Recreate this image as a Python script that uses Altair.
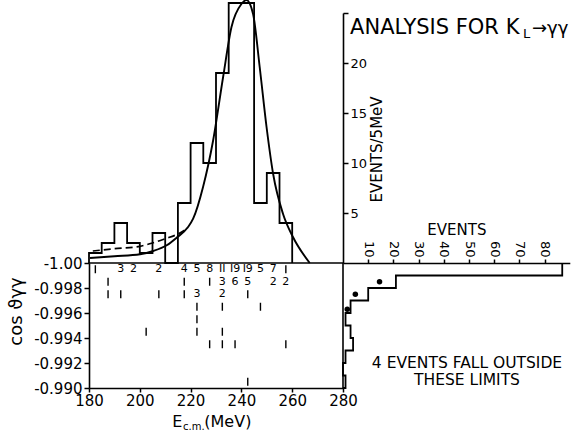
import altair as alt
import pandas as pd

# ---------------- data ----------------
# top histogram: events per 5 MeV bin
bin_lo = [180, 185, 190, 195, 200, 205, 210, 215, 220, 225, 230, 235, 240, 245, 250, 255]
hist_n = [1, 2, 4, 2, 1, 3, 0, 6, 12, 10, 19, 26, 26, 6, 9, 4]

# fitted curve (solid)
fit_e = [180.4, 190, 200.1, 205.3, 210.6, 214.5, 219.0, 221.0, 224.9, 228.9, 232.8,
         236.1, 240.0, 242.0, 244.6, 247.2, 249.9, 252.5, 256.4, 260.3, 266.9]
fit_n = [0.5, 0.67, 0.87, 1.2, 1.77, 2.53, 3.6, 4.43, 7.6, 12.3, 18.6,
         23.6, 25.9, 26.3, 24.9, 19.6, 13.6, 8.9, 4.9, 2.6, 0.0]

# background curve (dashed)
dash_e = [181.5, 190, 200, 205, 210, 215, 219]
dash_n = [1.2, 1.43, 1.67, 2.0, 2.43, 2.9, 3.5]

# scatter cells: bin centre energy, cos bin centre, number of events
cell_e = [182.5, 192.5, 197.5, 207.5, 217.5, 222.5, 227.5, 232.5, 237.5, 242.5, 247.5, 252.5, 257.5,
          187.5, 217.5, 227.5, 232.5, 237.5, 242.5, 252.5, 257.5,
          187.5, 192.5, 207.5, 217.5, 222.5, 232.5, 242.5,
          222.5, 232.5, 247.5,
          222.5,
          202.5, 222.5, 232.5,
          227.5, 232.5, 237.5, 257.5,
          242.5]
cell_cos = [-0.9995] * 13 + [-0.9985] * 8 + [-0.9975] * 7 + [-0.9965] * 3 + [-0.9955] * 1 + \
           [-0.9945] * 3 + [-0.9935] * 4 + [-0.9905] * 1
cell_n = [1, 3, 2, 2, 4, 5, 8, 11, 19, 19, 5, 7, 1,
          1, 1, 1, 3, 6, 5, 2, 2,
          1, 1, 1, 1, 3, 2, 1,
          1, 1, 1,
          1,
          1, 1, 1,
          1, 1, 1, 1,
          1]

# right-hand projection: events per cos bin
cos_lo = [-1.000, -0.999, -0.998, -0.997, -0.996, -0.995, -0.994, -0.993, -0.992, -0.991]
cos_n = [87, 21, 10, 3, 1, 3, 4, 1, 0, 1]

# expected values (dots)
dot_n = [14.5, 4.9, 1.7]
dot_cos = [-0.9985, -0.9975, -0.9963]

# ---------------- tables ----------------
hx, hy = [bin_lo[0]], [0]
for lo, n in zip(bin_lo, hist_n):
    hx += [lo, lo + 5]
    hy += [n, n]
hx.append(bin_lo[-1] + 5)
hy.append(0)
hist_df = pd.DataFrame({"e": hx, "n": hy, "o": range(len(hx))})

fit_df = pd.DataFrame({"e": fit_e, "n": fit_n})
dash_df = pd.DataFrame({"e": dash_e, "n": dash_n})
cell_df = pd.DataFrame({"e": cell_e, "c": cell_cos, "n": cell_n,
                        "lab": [str(v).replace("1", "I") for v in cell_n]})

sx, sy = [], []
for lo, n in zip(cos_lo, cos_n):
    sx += [n, n]
    sy += [lo, round(lo + 0.001, 3)]
sx.append(0)
sy.append(cos_lo[-1] + 0.001)
stair_df = pd.DataFrame({"k": sx, "c": sy, "o": range(len(sx))})
dot_df = pd.DataFrame({"k": dot_n, "c": dot_cos})

FONT = "DejaVu Sans"
W, H = 254, 375

X_MEV = alt.Scale(domain=[180, 280], range=[0, W], nice=False, zero=False)
Y_COS = alt.Scale(domain=[-1.0, -0.99], range=[250, H], nice=False, zero=False)
Y_EV = alt.Scale(domain=[0, 25], range=[250, 0], nice=False, zero=False)
X_EV = alt.Scale(domain=[0, 90], range=[W, W + 226.8], nice=False, zero=False)

mev_axis = alt.Axis(orient="bottom", values=[180, 200, 220, 240, 260, 280], tickSize=4,
                    labelFontSize=15, labelFlush=False, labelPadding=1, title=None)
ev_axis = alt.Axis(orient="right", values=[5, 10, 15, 20, 25], tickSize=5,
                   labelExpr="datum.value == 25 ? '' : datum.label",
                   labelFontSize=13, labelPadding=2, title="EVENTS/5MeV",
                   titleAngle=270, titleFontSize=15, titleX=33, titleY=136,
                   titleAlign="center", titleBaseline="middle")
cos_axis = alt.Axis(orient="left", values=[-1.0, -0.998, -0.996, -0.994, -0.992, -0.99],
                    tickSize=5, labelFontSize=15, labelPadding=2,
                    labelExpr="datum.value < -0.9995 ? '-1.00' : '-' + format(-datum.value, '.3f')",
                    title="cos ϑγγ", titleFontSize=18, titleAngle=270,
                    titleX=-73, titleY=298, titleAlign="center", titleBaseline="middle")
evr_axis = alt.Axis(orient="top", offset=-250, values=[10, 20, 30, 40, 50, 60, 70, 80],
                    tickSize=4, labelAngle=90, labelAlign="right", labelBaseline="middle",
                    labelFontSize=13, labelPadding=2, title="EVENTS", titleFontSize=15,
                    titlePadding=3)

hist = alt.Chart(hist_df).mark_line(color="black", strokeWidth=1.8).encode(
    x=alt.X("e:Q", scale=X_MEV, axis=mev_axis),
    y=alt.Y("n:Q", scale=Y_EV, axis=ev_axis),
    order="o:Q",
)
fit = alt.Chart(fit_df).mark_line(color="black", strokeWidth=1.9, interpolate="monotone").encode(
    x=alt.X("e:Q", scale=X_MEV, axis=None),
    y=alt.Y("n:Q", scale=Y_EV, axis=None),
)
dash = alt.Chart(dash_df).mark_line(color="black", strokeWidth=1.7, strokeDash=[7, 4],
                                    interpolate="monotone").encode(
    x=alt.X("e:Q", scale=X_MEV, axis=None),
    y=alt.Y("n:Q", scale=Y_EV, axis=None),
)
cells = alt.Chart(cell_df).transform_filter("datum.n > 1").mark_text(
    font=FONT, fontSize=11, color="black", align="center", baseline="middle").encode(
    x=alt.X("e:Q", scale=X_MEV, axis=None),
    y=alt.Y("c:Q", scale=Y_COS, axis=cos_axis),
    text="lab:N",
)
singles = alt.Chart(cell_df).transform_filter("datum.n == 1").mark_tick(
    orient="vertical", color="black", size=8, thickness=1.4, opacity=1).encode(
    x=alt.X("e:Q", scale=X_MEV, axis=None),
    y=alt.Y("c:Q", scale=Y_COS, axis=None),
)
frame_top = alt.Chart(pd.DataFrame({"e": [180], "e2": [280], "c": [-1.0]})).mark_rule(
    color="black", strokeWidth=1.6).encode(
    x=alt.X("e:Q", scale=X_MEV, axis=None), x2="e2:Q",
    y=alt.Y("c:Q", scale=Y_COS, axis=None),
)
frame_right = alt.Chart(pd.DataFrame({"e": [280], "c": [-1.0], "c2": [-0.99]})).mark_rule(
    color="black", strokeWidth=1.6).encode(
    x=alt.X("e:Q", scale=X_MEV, axis=None),
    y=alt.Y("c:Q", scale=Y_COS, axis=None), y2="c2:Q",
)
stair = alt.Chart(stair_df).mark_line(color="black", strokeWidth=1.8).encode(
    x=alt.X("k:Q", scale=X_EV, axis=evr_axis),
    y=alt.Y("c:Q", scale=Y_COS, axis=None),
    order="o:Q",
)
dots = alt.Chart(dot_df).mark_circle(color="black", opacity=1, size=30).encode(
    x=alt.X("k:Q", scale=X_EV, axis=None),
    y=alt.Y("c:Q", scale=Y_COS, axis=None),
)

# annotations
title_df = pd.DataFrame({"k": [2.8, 71.4, 75.0], "v": [22.9, 22.5, 22.9],
                         "t": ["ANALYSIS FOR K", "L", "→γγ"], "s": [21, 13, 18]})
title = alt.Chart(title_df).mark_text(font=FONT, color="black", align="left",
                                      baseline="alphabetic").encode(
    x=alt.X("k:Q", scale=X_EV, axis=None),
    y=alt.Y("v:Q", scale=Y_EV, axis=None),
    text="t:N",
    size=alt.Size("s:Q", scale=None, legend=None),
)
note_df = pd.DataFrame({"k": [49.2], "c": [-0.99204],
                        "t": ["4 EVENTS FALL OUTSIDE\nTHESE LIMITS"]})
note = alt.Chart(note_df).mark_text(font=FONT, fontSize=15.5, color="black", lineBreak="\n",
                                    lineHeight=17, align="center", baseline="middle").encode(
    x=alt.X("k:Q", scale=X_EV, axis=None),
    y=alt.Y("c:Q", scale=Y_COS, axis=None),
    text="t:N",
)
xt_df = pd.DataFrame({"e": [216.8, 217.0, 225.4], "c": [-0.98728, -0.98692, -0.98728],
                      "t": ["E", "c.m.", "(MeV)"], "s": [16, 10, 16],
                      "a": ["right", "left", "left"]})
xt_r = alt.Chart(xt_df).transform_filter("datum.a == 'right'").mark_text(
    font=FONT, color="black", align="right", baseline="middle").encode(
    x=alt.X("e:Q", scale=X_MEV, axis=None),
    y=alt.Y("c:Q", scale=Y_COS, axis=None),
    text="t:N",
    size=alt.Size("s:Q", scale=None, legend=None),
)
xt_l = alt.Chart(xt_df).transform_filter("datum.a == 'left'").mark_text(
    font=FONT, color="black", align="left", baseline="middle").encode(
    x=alt.X("e:Q", scale=X_MEV, axis=None),
    y=alt.Y("c:Q", scale=Y_COS, axis=None),
    text="t:N",
    size=alt.Size("s:Q", scale=None, legend=None),
)

chart = alt.layer(
    hist, fit, dash, cells, singles, frame_top, frame_right, stair, dots, title, note, xt_r, xt_l
).resolve_scale(
    x="independent", y="independent", size="independent"
).resolve_axis(
    x="independent", y="independent"
).properties(
    width=W, height=H,
    padding={"left": 89, "top": 13, "right": 230, "bottom": 45},
    autosize=alt.AutoSizeParams(type="none"),
    background="white",
).configure_view(stroke=None).configure_axis(
    domainColor="black", tickColor="black", labelColor="black", titleColor="black",
    labelFont=FONT, titleFont=FONT, titleFontWeight="normal", grid=False,
    domainWidth=1.6, tickWidth=1.5,
)

chart.save("out.html", embed_options={"renderer": "svg", "actions": False})
